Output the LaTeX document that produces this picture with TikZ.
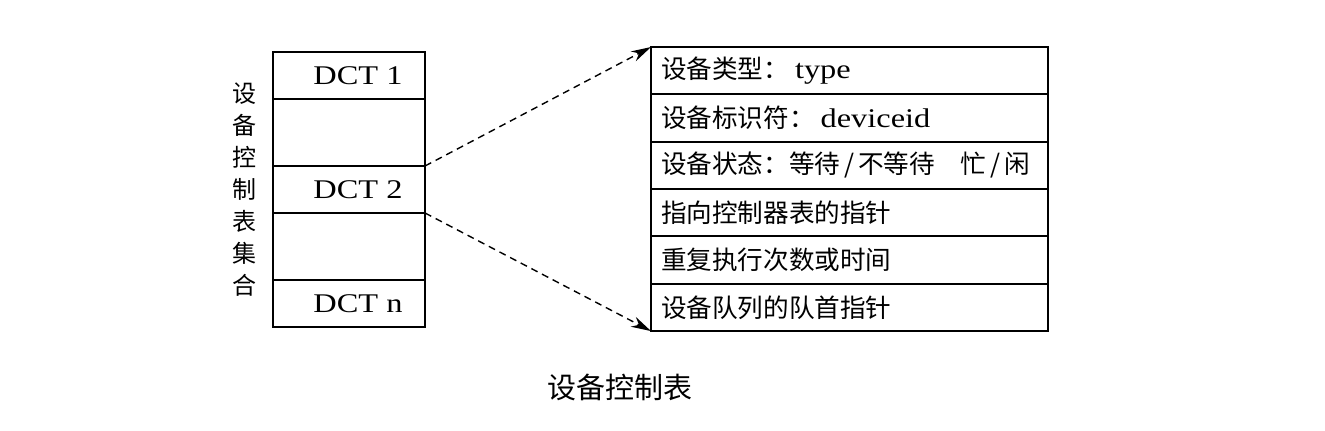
\documentclass[tikz,border=0pt]{standalone}
\usepackage{fontspec}
\setmainfont{Liberation Serif}[FakeStretch=1.2]
\newfontfamily\cjk{Noto Sans CJK SC}
\newcommand\latw[1]{\hspace{3pt}{\fontsize{13.5pt}{15pt}\rmfamily #1}}
\newcommand\slsh{\kern2pt/\kern2pt}
\usetikzlibrary{arrows.meta,positioning}

\begin{document}
\begin{tikzpicture}[x=0.5pt, y=-0.5pt, node distance=0pt, auto,
	dctnode/.style={rectangle,draw=black,line width=1pt,minimum width=76pt,minimum height=23.5pt,inner sep=0pt,outer sep=0pt,font=\fontsize{13.5pt}{15pt}\rmfamily},
	gapnode/.style={rectangle,draw=black,line width=1pt,minimum width=76pt,minimum height=33.5pt,inner sep=0pt,outer sep=0pt},
	fieldnode/.style={rectangle,draw=black,line width=1pt,minimum width=198.5pt,minimum height=23.67pt,text width=188.5pt,inner xsep=5pt,inner ysep=0pt,outer sep=0pt,align=left,font=\fontsize{12.8pt}{14pt}\cjk},
	ptr/.style={-{Stealth[length=10pt,width=5.5pt]},line width=0.7pt,dash pattern=on 3.5pt off 2.5pt}]
	\useasboundingbox (0,0) rectangle (1325,431);
	% left table
	\node[dctnode] (DCTa) at (349,75.5) {\hspace*{9pt}DCT 1};
	\node[gapnode] (GAPa) [below = of DCTa] {};
	\node[dctnode] (DCTb) [below = of GAPa] {\hspace*{9pt}DCT 2};
	\node[gapnode] (GAPb) [below = of DCTb] {};
	\node[dctnode] (DCTn) [below = of GAPb] {\hspace*{9pt}DCT n};
	\node[font=\fontsize{12pt}{16pt}\cjk,align=center] (SETlbl) at (244,190) {设\\备\\控\\制\\表\\集\\合};
	% right table
	\node[fieldnode] (FLDa) at (849.5,70.7) {设备类型：\latw{type}};
	\node[fieldnode] (FLDb) [below = of FLDa] {设备标识符：\latw{deviceid}};
	\node[fieldnode] (FLDc) [below = of FLDb] {设备状态：等待\slsh 不等待\hspace{1em}忙\slsh 闲};
	\node[fieldnode] (FLDd) [below = of FLDc] {指向控制器表的指针};
	\node[fieldnode] (FLDe) [below = of FLDd] {重复执行次数或时间};
	\node[fieldnode] (FLDf) [below = of FLDe] {设备队列的队首指针};
	\path[ptr] (DCTb.north east) edge (FLDa.north west);
	\path[ptr] (DCTb.south east) edge (FLDf.south west);
	\node[font=\fontsize{14.5pt}{16pt}\cjk] (CAPlbl) at (620,387) {设备控制表};
\end{tikzpicture}
\end{document}
